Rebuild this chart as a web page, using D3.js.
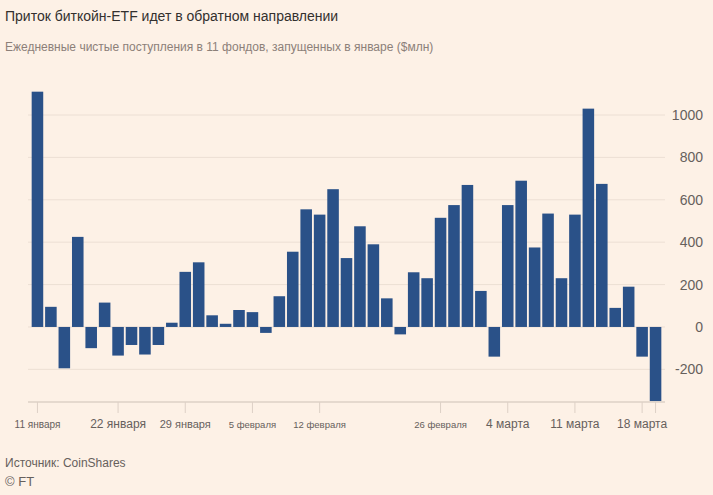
<!DOCTYPE html>
<html>
<head>
<meta charset="utf-8">
<script src="https://cdn.jsdelivr.net/npm/d3@7"></script>
<style>
  body { margin: 0; background: #fdf1e6; }
  text { font-family: "Liberation Sans", Arial, sans-serif; }
</style>
</head>
<body>
<div id="chart"></div>
<script>
// trading days, 11 Jan - 19 Mar 2024
const days = [
  "01-11","01-12","01-16","01-17","01-18","01-19",
  "01-22","01-23","01-24","01-25","01-26",
  "01-29","01-30","01-31","02-01","02-02",
  "02-05","02-06","02-07","02-08","02-09",
  "02-12","02-13","02-14","02-15","02-16",
  "02-20","02-21","02-22","02-23",
  "02-26","02-27","02-28","02-29","03-01",
  "03-04","03-05","03-06","03-07","03-08",
  "03-11","03-12","03-13","03-14","03-15",
  "03-18","03-19"
];
const flows = [
  1110, 95, -195, 425, -100, 115,
  -135, -85, -130, -85, 20,
  260, 305, 55, 15, 80,
  70, -28, 145, 355, 555,
  530, 650, 325, 475, 390,
  135, -35, 258, 230,
  515, 575, 670, 170, -140,
  575, 690, 375, 535, 230,
  530, 1030, 675, 90, 190,
  -140, -350
];
const tickDays = ["01-11","01-22","01-29","02-05","02-12","02-26","03-04","03-11","03-18","03-19"];
const tickLabels = ["11 января","22 января","29 января","5 февраля","12 февраля","26 февраля","4 марта","11 марта","18 марта",""];
const tickSizes = [10, 12, 11, 9.5, 9.5, 9.5, 12, 12, 12, 12];
const yTicks = [-200, 0, 200, 400, 600, 800, 1000];

const W = 713, H = 495;
const svg = d3.select("#chart").append("svg").attr("width", W).attr("height", H);
svg.append("rect").attr("width", W).attr("height", H).attr("fill", "#fdf1e6");

const x = d3.scaleBand().domain(days).range([31, 662]).paddingInner(0.14).paddingOuter(0.05);
const y = d3.scaleLinear().domain([-354, 1000]).range([402, 115]);

// gridlines + right axis labels
svg.selectAll(".grid").data(yTicks).enter().append("line")
  .attr("x1", 28).attr("x2", 665)
  .attr("y1", d => y(d)).attr("y2", d => y(d))
  .attr("stroke", "#ecdfd4").attr("stroke-width", 1);
svg.selectAll(".ylab").data(yTicks).enter().append("text")
  .attr("x", 703).attr("y", d => y(d) + 5)
  .attr("text-anchor", "end").attr("font-size", 14).attr("fill", "#66605c")
  .text(d => d);

svg.selectAll(".bar").data(flows).enter().append("rect")
  .attr("x", (d, i) => x(days[i]))
  .attr("width", x.bandwidth())
  .attr("y", d => y(Math.max(0, d)))
  .attr("height", d => Math.abs(y(d) - y(0)))
  .attr("fill", "#2a5188");

// x axis
svg.append("line").attr("x1", 28).attr("x2", 665).attr("y1", 402).attr("y2", 402)
  .attr("stroke", "#ddd0c6").attr("stroke-width", 1.5);
tickDays.forEach((d, i) => {
  const cx = x(d) + x.bandwidth() / 2;
  svg.append("line").attr("x1", cx).attr("x2", cx).attr("y1", 402).attr("y2", 413)
    .attr("stroke", "#ddd0c6");
  svg.append("text").attr("x", cx).attr("y", 428).attr("text-anchor", "middle")
    .attr("font-size", tickSizes[i]).attr("fill", "#66605c").text(tickLabels[i]);
});

svg.append("text").attr("x", 5).attr("y", 21).attr("font-size", 14).attr("fill", "#33302e")
  .text("Приток биткойн-ETF идет в обратном направлении");
svg.append("text").attr("x", 5).attr("y", 51).attr("font-size", 12).attr("fill", "#8c8079")
  .text("Ежедневные чистые поступления в 11 фондов, запущенных в январе ($млн)");
svg.append("text").attr("x", 5).attr("y", 467).attr("font-size", 12).attr("fill", "#66605c")
  .text("Источник: CoinShares");
svg.append("text").attr("x", 5).attr("y", 486).attr("font-size", 13).attr("fill", "#66605c")
  .text("© FT");
</script>
</body>
</html>
